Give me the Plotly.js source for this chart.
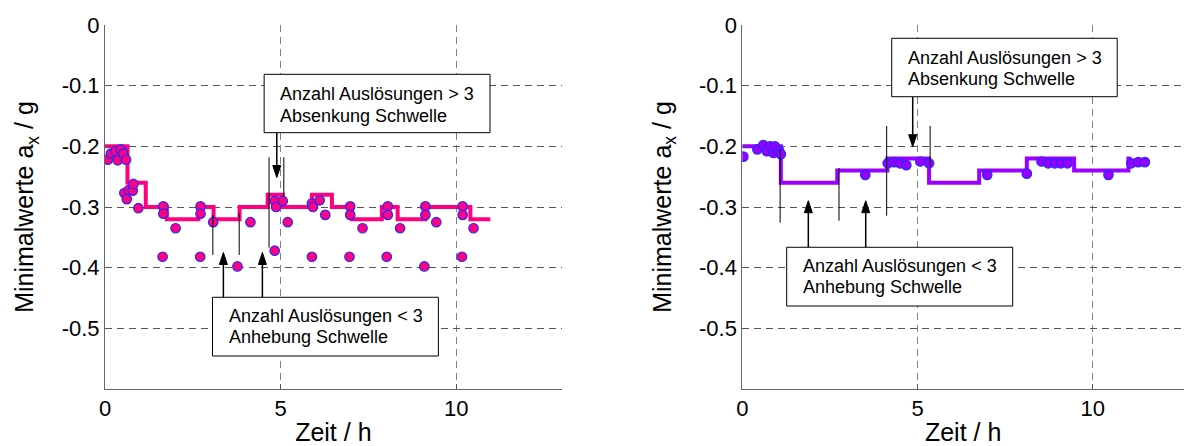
<!DOCTYPE html>
<html><head><meta charset="utf-8">
<script src="https://cdn.plot.ly/plotly-3.0.1.min.js"></script>
<style>html,body{margin:0;padding:0;background:#fff;} #chart{width:1184px;height:446px;}</style>
</head><body><div id="chart"></div>
<script>
// ---------- data: left panel ----------
const leftStepTime = [0, 0.64, 1.16, 1.76, 2.66, 3.09, 3.83, 4.63, 5.06, 5.89, 6.46, 7.03, 7.88, 8.33, 9.12, 10.40, 10.97];
const leftStepThreshold = [-0.20, -0.26, -0.30, -0.32, -0.30, -0.32, -0.30, -0.28, -0.30, -0.28, -0.30, -0.32, -0.30, -0.32, -0.30, -0.32, -0.32];
const leftPointTime = [0.08, 0.17, 0.30, 0.36, 0.45, 0.52, 0.60,
  0.55, 0.62, 0.68, 0.79, 0.81, 0.95,
  1.66, 1.66, 2.01, 1.64,
  2.72, 2.72, 2.71, 3.08,
  3.77, 4.14,
  4.83, 4.87, 5.06, 4.83, 5.20,
  5.89, 5.92, 6.11, 6.27, 5.89,
  6.98, 6.98, 7.33, 6.96,
  8.05, 8.05, 8.40, 8.02,
  9.12, 9.12, 9.43, 9.09,
  10.18, 10.18, 10.49, 10.16];
const leftPointMin = [-0.222, -0.212, -0.208, -0.223, -0.205, -0.212, -0.222,
  -0.277, -0.287, -0.272, -0.273, -0.262, -0.302,
  -0.299, -0.311, -0.335, -0.382,
  -0.299, -0.311, -0.382, -0.325,
  -0.398, -0.325,
  -0.290, -0.300, -0.290, -0.372, -0.325,
  -0.294, -0.300, -0.289, -0.313, -0.382,
  -0.299, -0.313, -0.335, -0.382,
  -0.299, -0.313, -0.335, -0.382,
  -0.299, -0.313, -0.325, -0.398,
  -0.299, -0.313, -0.335, -0.382];

// ---------- data: right panel ----------
const rightStepTime = [0, 1.10, 2.71, 4.14, 5.33, 6.76, 8.12, 9.47, 11.02, 11.10];
const rightStepThreshold = [-0.20, -0.26, -0.24, -0.22, -0.26, -0.24, -0.22, -0.24, -0.22, -0.22];
const rightPointTime = [0.03, 0.43, 0.60, 0.70, 0.79, 0.89, 0.93, 1.05, 1.10,
  3.51,
  4.15, 4.33, 4.50, 4.68, 5.08, 5.33,
  6.99, 8.12,
  8.54, 8.73, 8.92, 9.09, 9.28,
  10.45, 11.10, 11.30, 11.49];
const rightPointMin = [-0.217, -0.205, -0.198, -0.208, -0.200, -0.211, -0.200, -0.207, -0.213,
  -0.247,
  -0.228, -0.226, -0.228, -0.231, -0.225, -0.228,
  -0.247, -0.245,
  -0.225, -0.228, -0.228, -0.228, -0.228,
  -0.247, -0.228, -0.226, -0.226];

// ---------- ticks ----------
const xTickVals = [0, 5, 10];
const xTickText = ['0', '5', '10'];
const yTickVals = [0, -0.1, -0.2, -0.3, -0.4, -0.5];
const yTickText = ['0', '-0.1', '-0.2', '-0.3', '-0.4', '-0.5'];

const xTitle = 'Zeit / h';
const yTitle = 'Minimalwerte a<sub>x</sub> / g';
const boxUpperLines = ['Anzahl Auslösungen > 3', 'Absenkung Schwelle'];
const boxLowerLines = ['Anzahl Auslösungen < 3', 'Anhebung Schwelle'];

// ---------- styles ----------
const FONT = 'Arial, "Liberation Sans", Helvetica, sans-serif';
const pink = 'rgb(255,0,128)';
const purple = 'rgb(153,0,255)';
const edgeBlue = 'rgb(40,40,255)';

const traces = [
  {x: leftStepTime, y: leftStepThreshold, xaxis: 'x', yaxis: 'y', type: 'scatter', mode: 'lines',
   line: {shape: 'hv', color: pink, width: 4}, hoverinfo: 'skip'},
  {x: leftPointTime, y: leftPointMin, xaxis: 'x', yaxis: 'y', type: 'scatter', mode: 'markers',
   marker: {size: 9.5, color: pink, line: {color: edgeBlue, width: 1.2}}},
  {x: rightStepTime, y: rightStepThreshold, xaxis: 'x2', yaxis: 'y2', type: 'scatter', mode: 'lines',
   line: {shape: 'hv', color: purple, width: 4}, hoverinfo: 'skip'},
  {x: rightPointTime, y: rightPointMin, xaxis: 'x2', yaxis: 'y2', type: 'scatter', mode: 'markers',
   marker: {size: 9.5, color: purple, line: {color: edgeBlue, width: 1.2}}}
];

function xAx(domain, range, anchor) {
  return {domain: domain, range: range, anchor: anchor, tickmode: 'array', tickvals: xTickVals, ticktext: xTickText,
    ticks: 'inside', ticklen: 5, tickcolor: '#555', showline: true, linecolor: '#666', linewidth: 1,
    showgrid: true, gridcolor: '#808080', gridwidth: 1, griddash: '7px,5px', zeroline: false,
    tickfont: {family: FONT, size: 22, color: '#000'},
    title: {text: xTitle, font: {family: FONT, size: 25, color: '#000'}, standoff: 8}};
}
function yAx(anchor) {
  return {domain: [0, 1], range: [-0.6, 0], anchor: anchor, tickmode: 'array', tickvals: yTickVals, ticktext: yTickText,
    ticks: 'inside', ticklen: 5, tickcolor: '#555', showline: true, linecolor: '#666', linewidth: 1,
    showgrid: true, gridcolor: '#555', gridwidth: 1, griddash: '7px,5px', zeroline: false,
    tickfont: {family: FONT, size: 22, color: '#000'},
    title: {text: yTitle, font: {family: FONT, size: 25, color: '#000'}, standoff: 20}};
}

// pixel scales (used only for arrowhead geometry)
const PX_PER_X = {x: 35.13, x2: 35.04};
const PX_PER_Y = 364 / 0.6;

const shapes = [];
const annotations = [];
function vline(xr, yr, x, y0, y1) {
  shapes.push({type: 'line', xref: xr, yref: yr, x0: x, x1: x, y0: y0, y1: y1, line: {color: '#000', width: 1}, layer: 'above'});
}
function arrow(xr, yr, x, yTip, yTail) {
  const dir = yTail > yTip ? 1 : -1;          // +1: arrow points downwards
  const headLen = 12 / PX_PER_Y, halfW = 4 / PX_PER_X[xr];
  const yBase = yTip + dir * headLen;
  shapes.push({type: 'line', xref: xr, yref: yr, x0: x, x1: x, y0: yTail, y1: yBase, line: {color: '#000', width: 1.5}, layer: 'above'});
  shapes.push({type: 'path', xref: xr, yref: yr, layer: 'above', fillcolor: '#000', line: {color: '#000', width: 1},
    path: 'M ' + x + ' ' + yTip + ' L ' + (x - halfW) + ' ' + yBase + ' L ' + (x + halfW) + ' ' + yBase + ' Z'});
}
function box(xr, yr, x0, x1, y0, y1, lines, tx, ty1, ty2) {
  shapes.push({type: 'rect', xref: xr, yref: yr, x0: x0, x1: x1, y0: y0, y1: y1,
    fillcolor: '#fff', line: {color: '#000', width: 1}, layer: 'above'});
  [ty1, ty2].forEach(function (ty, i) {
    annotations.push({xref: xr, yref: yr, x: tx, y: ty, xanchor: 'left', yanchor: 'middle', showarrow: false,
      text: lines[i], font: {family: FONT, size: 18, color: '#000'}});
  });
}

// left panel annotations
vline('x', 'y', 3.07, -0.313, -0.379);
vline('x', 'y', 3.82, -0.310, -0.379);
vline('x', 'y', 4.67, -0.218, -0.367);
vline('x', 'y', 5.09, -0.218, -0.2835);
arrow('x', 'y', 4.89, -0.2514, -0.1775);
arrow('x', 'y', 3.37, -0.375, -0.4488);
arrow('x', 'y', 4.48, -0.375, -0.4488);
box('x', 'y', 4.53, 10.96, -0.0813, -0.1775, boxUpperLines, 4.92, -0.1142, -0.1497);
box('x', 'y', 3.06, 9.49, -0.4488, -0.5456, boxLowerLines, 3.46, -0.4796, -0.5143);

// right panel annotations
vline('x2', 'y2', 1.08, -0.206, -0.3259);
vline('x2', 'y2', 2.76, -0.2357, -0.3226);
vline('x2', 'y2', 4.12, -0.1665, -0.3143);
vline('x2', 'y2', 5.36, -0.1665, -0.2336);
arrow('x2', 'y2', 4.863, -0.2006, -0.1182);
arrow('x2', 'y2', 1.884, -0.2896, -0.3664);
arrow('x2', 'y2', 3.522, -0.2896, -0.3664);
box('x2', 'y2', 4.264, 10.70, -0.0219, -0.1182, boxUpperLines, 4.66, -0.0544, -0.0897);
box('x2', 'y2', 1.267, 7.717, -0.3664, -0.4632, boxLowerLines, 1.675, -0.3972, -0.4318);

const layout = {
  width: 1184, height: 446,
  margin: {l: 0, r: 0, t: 25, b: 57},
  paper_bgcolor: '#fff', plot_bgcolor: '#fff',
  showlegend: false,
  font: {family: FONT, color: '#000'},
  xaxis: xAx([105 / 1184, 561.7 / 1184], [0, 13], 'y'),
  yaxis: yAx('x'),
  xaxis2: xAx([742.3 / 1184, 1], [0, (1184 - 742.3) / 35.04], 'y2'),
  yaxis2: yAx('x2'),
  shapes: shapes,
  annotations: annotations
};

Plotly.newPlot('chart', traces, layout, {staticPlot: true, displayModeBar: false});
</script>
</body></html>
